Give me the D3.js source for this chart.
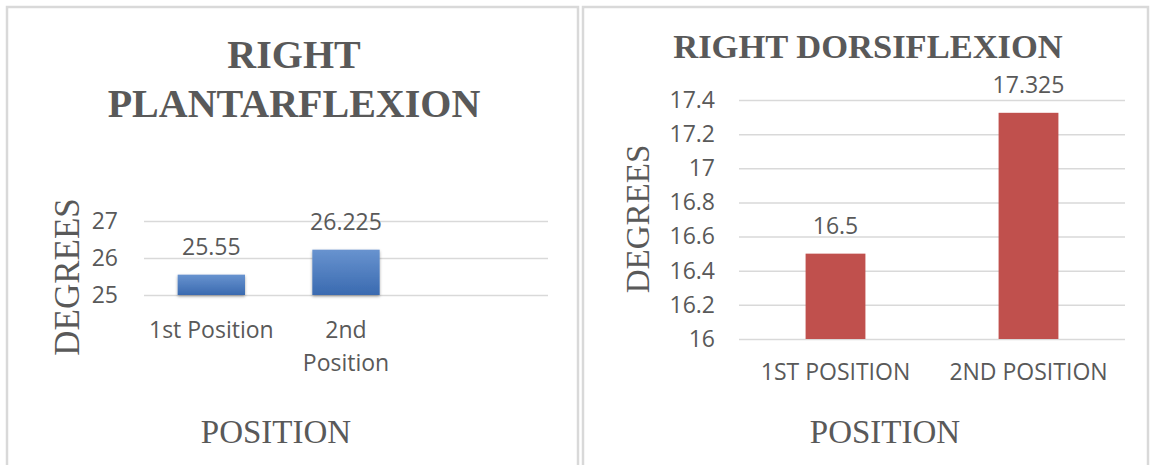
<!DOCTYPE html>
<html>
<head>
<meta charset="utf-8">
<script src="https://cdn.jsdelivr.net/npm/d3@7"></script>
<style>
  html, body { margin: 0; padding: 0; background: #fff; }
  svg { display: block; }
</style>
</head>
<body>
<div id="chart"></div>
<script>
// ── Datos ────────────────────────────────────────────────────────────────
const plantarCategories = ["1st Position", "2nd\nPosition", ""];
const plantarValues = [25.55, 26.225, null];
const plantarTicks = [25, 26, 27];

const dorsiCategories = ["1ST POSITION", "2ND POSITION"];
const dorsiValues = [16.5, 17.325];
const dorsiTicks = [16, 16.2, 16.4, 16.6, 16.8, 17, 17.2, 17.4];

// ── Estilo ───────────────────────────────────────────────────────────────
const W = 1153, H = 465;
const textColor = "#595959";
const gridColor = "#d9d9d9";
const sans = "'Open Sans', sans-serif";
const serif = "'Liberation Serif', 'Times New Roman', serif";

const svg = d3.select("#chart").append("svg")
  .attr("width", W)
  .attr("height", H);

const defs = svg.append("defs");
const grad = defs.append("linearGradient")
  .attr("id", "blueGrad")
  .attr("x1", 0).attr("y1", 0).attr("x2", 0).attr("y2", 1);
grad.append("stop").attr("offset", "0%").attr("stop-color", "#6893cf");
grad.append("stop").attr("offset", "100%").attr("stop-color", "#3a6ab0");

const shadow = defs.append("filter").attr("id", "barShadow")
  .attr("x", "-20%").attr("y", "-20%").attr("width", "140%").attr("height", "160%");
shadow.append("feDropShadow")
  .attr("dx", 0).attr("dy", 1.5).attr("stdDeviation", 1.5)
  .attr("flood-color", "#000").attr("flood-opacity", 0.35);

// marcos de los dos gráficos
svg.append("rect")
  .attr("x", 7).attr("y", 7).attr("width", 571).attr("height", 470)
  .attr("fill", "#fff").attr("stroke", gridColor).attr("stroke-width", 2.5);
svg.append("rect")
  .attr("x", 583).attr("y", 7).attr("width", 565).attr("height", 470)
  .attr("fill", "#fff").attr("stroke", gridColor).attr("stroke-width", 2.5);

// ── Panel genérico ───────────────────────────────────────────────────────
function drawPanel(cfg) {
  const g = svg.append("g");

  const x = d3.scaleBand()
    .domain(cfg.categories)
    .range([cfg.left, cfg.right])
    .padding(0);

  const y = d3.scaleLinear()
    .domain(d3.extent(cfg.ticks))
    .range([cfg.bottom, cfg.top]);

  // líneas de cuadrícula
  g.append("g")
    .attr("transform", `translate(${cfg.left},0)`)
    .call(d3.axisLeft(y).tickValues(cfg.ticks).tickSize(-(cfg.right - cfg.left)).tickFormat(""))
    .call(a => a.select(".domain").remove())
    .call(a => a.selectAll("line").attr("stroke", gridColor).attr("stroke-width", 1.5));

  // etiquetas del eje Y
  g.append("g")
    .attr("transform", `translate(${cfg.left},0)`)
    .call(d3.axisLeft(y).tickValues(cfg.ticks).tickSize(0).tickPadding(cfg.tickPad)
      .tickFormat(d => String(+d.toFixed(1))))
    .call(a => a.select(".domain").remove())
    .call(a => a.selectAll("text")
      .attr("fill", textColor)
      .style("font-family", sans)
      .style("font-size", "23px"));

  // barras
  const bw = x.bandwidth() * cfg.barFrac;
  const rows = cfg.categories.map((c, i) => ({ c, v: cfg.values[i] }))
    .filter(d => d.v != null);

  g.append("g")
    .selectAll("rect")
    .data(rows)
    .join("rect")
    .attr("x", d => x(d.c) + (x.bandwidth() - bw) / 2)
    .attr("y", d => y(d.v))
    .attr("width", bw)
    .attr("height", d => y(y.domain()[0]) - y(d.v))
    .attr("fill", cfg.fill)
    .attr("filter", cfg.filter || null);

  // etiquetas de datos
  g.append("g")
    .selectAll("text")
    .data(rows)
    .join("text")
    .attr("x", d => x(d.c) + x.bandwidth() / 2)
    .attr("y", d => y(d.v) - 20)
    .attr("text-anchor", "middle")
    .attr("fill", textColor)
    .style("font-family", sans)
    .style("font-size", "23px")
    .text(d => d.v);

  // categorías
  g.append("g")
    .selectAll("text")
    .data(cfg.categories)
    .join("text")
    .attr("x", d => x(d) + x.bandwidth() / 2)
    .attr("y", cfg.bottom + cfg.catGap)
    .attr("text-anchor", "middle")
    .attr("fill", textColor)
    .style("font-family", sans)
    .style("font-size", "23px")
    .each(function(d) {
      d.split("\n").forEach((line, i) => {
        d3.select(this).append("tspan")
          .attr("x", x(d) + x.bandwidth() / 2)
          .attr("dy", i === 0 ? 0 : 33)
          .text(line);
      });
    });

  // título
  g.append("text")
    .attr("text-anchor", "middle")
    .attr("fill", textColor)
    .style("font-family", serif)
    .style("font-weight", "bold")
    .style("font-size", cfg.titleSize + "px")
    .selectAll("tspan")
    .data(cfg.title)
    .join("tspan")
    .attr("x", cfg.titleX)
    .attr("y", (d, i) => cfg.titleY + i * cfg.titleLead)
    .text(d => d);

  // título eje Y
  g.append("text")
    .attr("transform", `translate(${cfg.yTitleX},${cfg.yTitleY}) rotate(-90)`)
    .attr("text-anchor", "middle")
    .attr("dy", "0.33em")
    .attr("fill", textColor)
    .style("font-family", serif)
    .style("font-size", cfg.yTitleSize + "px")
    .text("DEGREES");

  // título eje X
  g.append("text")
    .attr("x", cfg.xTitleX)
    .attr("y", 443)
    .attr("text-anchor", "middle")
    .attr("fill", textColor)
    .style("font-family", serif)
    .style("font-size", "33px")
    .text("POSITION");
}

drawPanel({
  categories: plantarCategories,
  values: plantarValues,
  ticks: plantarTicks,
  left: 144, right: 548, top: 221, bottom: 295,
  tickPad: 26,
  barFrac: 0.5,
  fill: "url(#blueGrad)",
  filter: "url(#barShadow)",
  catGap: 43,
  title: ["RIGHT", "PLANTARFLEXION"],
  titleSize: 40, titleX: 294, titleY: 68, titleLead: 49,
  yTitleX: 67, yTitleY: 277, yTitleSize: 35,
  xTitleX: 276
});

drawPanel({
  categories: dorsiCategories,
  values: dorsiValues,
  ticks: dorsiTicks,
  left: 739, right: 1125, top: 100, bottom: 339,
  tickPad: 24,
  barFrac: 0.31,
  fill: "#c0504d",
  catGap: 41,
  title: ["RIGHT DORSIFLEXION"],
  titleSize: 34.5, titleX: 868, titleY: 58, titleLead: 0,
  yTitleX: 638, yTitleY: 219, yTitleSize: 33,
  xTitleX: 885
});
</script>
</body>
</html>
